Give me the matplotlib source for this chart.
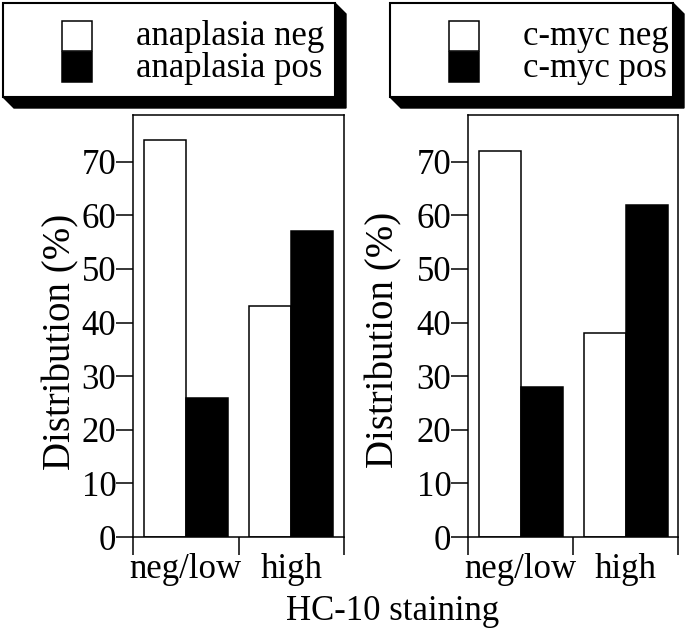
import matplotlib
matplotlib.use("Agg")
import matplotlib.pyplot as plt
from matplotlib.patches import Polygon, Rectangle
import numpy as np

plt.rcParams['font.family'] = ['Liberation Serif', 'DejaVu Serif']
plt.rcParams['font.size'] = 25

categories = ['neg/low', 'high']
anaplasia_neg = [74, 43]
anaplasia_pos = [26, 57]
cmyc_neg = [72, 38]
cmyc_pos = [28, 62]
panels = [
    (['anaplasia neg', 'anaplasia pos'], anaplasia_neg, anaplasia_pos),
    (['c-myc neg', 'c-myc pos'], cmyc_neg, cmyc_pos),
]
yticks = [0, 10, 20, 30, 40, 50, 60, 70]

W, H = 685, 628
fig = plt.figure(figsize=(W / 100, H / 100), dpi=100)


def fx(px):
    return px / W


def fy(py):
    return 1 - py / H


# axes boxes in pixels (left, right), shared top/bottom
ax_px = [(133, 344), (468, 678)]
ylab_pos = [(-0.341, 0.462), (-0.40, 0.467)]
# legend frames in pixels (x0, x1)
leg_px = [(3, 335), (390, 673)]

for i, (labels, neg, pos) in enumerate(panels):
    l, r = ax_px[i]
    ax = fig.add_axes([fx(l), fy(537), fx(r - l), fy(115) - fy(537)])
    x = np.arange(len(categories))
    ax.bar(x - 0.2, neg, width=0.4, color='white', edgecolor='black', linewidth=1.1)
    ax.bar(x + 0.2, pos, width=0.4, color='black', edgecolor='black', linewidth=1.1)
    ax.set_xlim(-0.5, 1.5)
    ax.set_ylim(0, 78.7)
    ax.set_yticks(yticks)
    ax.set_xticks([-0.5, 0.5, 1.5])
    ax.set_xticklabels([])
    ax.set_xticks(x, minor=True)
    ax.set_xticklabels(categories, minor=True)
    ax.tick_params(axis='x', which='major', length=13, width=1.1, direction='out')
    ax.tick_params(axis='x', which='minor', length=0, pad=11.5)
    ax.tick_params(axis='y', length=12, width=1.1, direction='out', pad=0)
    for s in ax.spines.values():
        s.set_linewidth(1.1)
    ax.set_ylabel('Distribution (%)', fontsize=28, va='center')
    ax.yaxis.set_label_coords(*ylab_pos[i])

    # legend frame with 3D shadow
    x0, x1 = leg_px[i]
    y0, y1 = 3, 97
    d = 11
    shadow = Polygon([(fx(x1), fy(y0)), (fx(x1 + d), fy(y0 + d)), (fx(x1 + d), fy(y1 + d)),
                      (fx(x0 + d), fy(y1 + d)), (fx(x0), fy(y1))],
                     closed=True, facecolor='black', edgecolor='black', transform=fig.transFigure)
    fig.patches.append(shadow)
    frame = Rectangle((fx(x0), fy(y1)), fx(x1 - x0), fy(y0) - fy(y1), facecolor='white',
                      edgecolor='black', linewidth=1.5, transform=fig.transFigure)
    fig.patches.append(frame)
    # legend swatches and labels
    sx = x0 + 59
    for k, (col, lab) in enumerate(zip(['white', 'black'], labels)):
        top = 21 + 31 * k
        sw = Rectangle((fx(sx), fy(top + 30)), fx(30), fy(top) - fy(top + 30), facecolor=col,
                       edgecolor='black', linewidth=1.1, transform=fig.transFigure)
        fig.patches.append(sw)
        fig.text(fx(sx + 74), fy(45 + 32 * k), lab, ha='left', va='baseline')

fig.text(fx(393), fy(620), 'HC-10 staining', ha='center', va='baseline')

fig.savefig('out.png', dpi=100)
